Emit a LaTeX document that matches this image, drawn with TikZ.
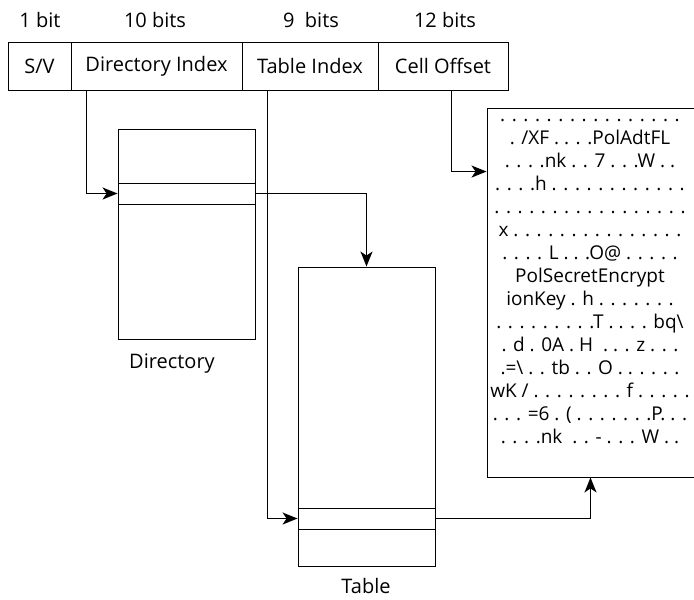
\documentclass[tikz,border=0pt]{standalone}
\usepackage{fontspec}
\setmainfont{Open Sans}
\usetikzlibrary{arrows.meta,positioning,calc}

\begin{document}
\begin{tikzpicture}[x=1pt,y=-1pt,
  every node/.style={font=\fontsize{20}{24}\selectfont},
  field/.style={draw,line width=0.9pt,minimum height=48pt,inner sep=0pt},
  blk/.style={draw,line width=0.9pt,inner sep=0pt,minimum width=137pt},
  slot/.style={blk,minimum height=21pt},
  link/.style={line width=1.4pt,-{Stealth[length=15pt,width=12pt,inset=4pt]}}]
  \useasboundingbox (0,0) rectangle (694,600);
  % address fields
  \node[field,minimum width=63pt] (sv) at (39.5,66) {S/V};
  \node[field,minimum width=171pt] (dirindex) at (156.5,66) {Directory Index};
  \node[field,minimum width=136pt] (tblindex) at (310,66) {Table Index};
  \node[field,minimum width=130pt] (celloff) at (443,66) {Cell Offset};
  \node (b1) at (40,20) {1 bit};
  \node (b10) at (155,20) {10 bits};
  \node (b9) at (311,20) {9\ \ bits};
  \node (b12) at (445,20) {12 bits};
  % directory and table
  \node[blk,minimum height=210pt] (dir) at (186.5,234) {};
  \node[slot] (dirslot) at (186.5,193.5) {};
  \node (dirlbl) at (172,364) {Directory};
  \node[blk,minimum height=299pt] (tbl) at (366.5,416.5) {};
  \node[slot] (tblslot) at (366.5,518.5) {};
  \node (tbllbl) at (366,586) {Table};
  % cell data
  \node[draw,line width=0.9pt,minimum width=207pt,minimum height=369pt,inner sep=0pt] (data) at (590.5,292.5) {};
  \node[align=center,font=\fontsize{19}{23}\selectfont] (cell) at (590,281.5) {%
    . . . . . . . . . . . . . . . .\\
    . /XF . . . .PolAdtFL\\
    . . . .nk . . 7 . . .W . .\\
    . . . .h . . . . . . . . . . . .\\
    . . . . . . . . . . . . . . . . .\\
    x . . . . . . . . . . . . . . .\\
    . . . . L . . .O@ . . . . .\\
    PolSecretEncrypt\\
    ionKey . h . . . . . . .\\
    . . . . . . . . .T . . . . bq\textbackslash\\
    . d . 0A . H \ . . . z . . .\\
    .=\textbackslash{} . . tb . . O . . . . . .\\
    wK / . . . . . . . . f . . . . .\\
    . . . =6 . ( . . . . . . .P. . .\\
    . . . .nk \ . . - . . . W . .};
  % lookups
  \draw[link] ([xshift=16pt]dirindex.south west) |- (dirslot.west);
  \draw[link] (dirslot.east) -| (tbl.north);
  \draw[link] ([xshift=26pt]tblindex.south west) |- (tblslot.west);
  \draw[link] (tblslot.east) -| (data.south);
  \draw[link] ([xshift=74pt]celloff.south west) |- ([yshift=-64pt]data.north west);
\end{tikzpicture}
\end{document}
